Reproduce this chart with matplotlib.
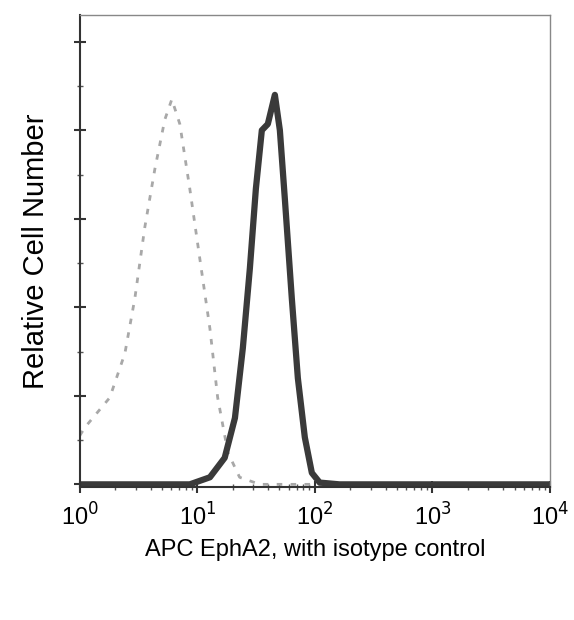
import matplotlib
matplotlib.use("Agg")
import matplotlib.pyplot as plt
from matplotlib.ticker import LogLocator, NullFormatter, MultipleLocator

plt.rcParams['font.family'] = ['Liberation Sans', 'DejaVu Sans']

iso_x = [1.0, 1.10, 1.80, 2.42, 2.94, 3.57, 4.35, 5.29, 6.07, 7.10, 8.63, 10.5, 12.8, 14.9, 18.2, 22.9, 34, 10000]
iso_y = [0.55, 0.64, 0.98, 1.48, 2.1, 2.9, 3.56, 4.12, 4.35, 4.07, 3.34, 2.55, 1.76, 0.98, 0.36, 0.08, 0.0, 0.0]

eph_x = [1.0, 8.63, 12.8, 17.1, 20.9, 24.4, 28.0, 31.5, 35.4, 39.8, 45.7, 50.4, 55.6, 63.7, 71.7, 82.2, 94.3, 110, 162, 10000]
eph_y = [0.0, 0.0, 0.08, 0.3, 0.75, 1.54, 2.44, 3.34, 4.0, 4.07, 4.4, 4.0, 3.22, 2.1, 1.2, 0.53, 0.13, 0.02, 0.0, 0.0]

xtick_vals = [1, 10, 100, 1000, 10000]
xtick_labels = ["10$^0$", "10$^1$", "10$^2$", "10$^3$", "10$^4$"]

fig = plt.figure(figsize=(5.74, 6.2), dpi=100)
ax = fig.add_axes([0.139, 0.2145, 0.819, 0.761])
ax.plot(iso_x, iso_y, color="#a8a8a8", lw=2.0, ls=(0, (2, 3)))
ax.plot(eph_x, eph_y, color="#3a3a3a", lw=4.5)
ax.set_xscale("log")
ax.set_xlim(1, 10000)
ax.set_ylim(-0.03, 5.3)
ax.set_xticks(xtick_vals)
ax.set_xticklabels(xtick_labels, fontsize=17)
ax.xaxis.set_minor_locator(LogLocator(base=10, subs=range(2, 10)))
ax.xaxis.set_minor_formatter(NullFormatter())
ax.yaxis.set_major_locator(MultipleLocator(1))
ax.yaxis.set_minor_locator(MultipleLocator(0.5))
ax.set_yticklabels([])
ax.tick_params(axis="both", which="major", direction="inout", length=8, width=1.5, color="#333333")
ax.tick_params(axis="both", which="minor", direction="inout", length=4, width=1, color="#555555")
ax.tick_params(axis="x", pad=8)
for s in ax.spines.values():
    s.set_color("#888888")
    s.set_linewidth(1)
ax.spines["left"].set_color("#333333")
ax.spines["left"].set_linewidth(1.5)
ax.spines["bottom"].set_color("#333333")
ax.spines["bottom"].set_linewidth(1.5)
ax.set_xlabel("APC EphA2, with isotype control", fontsize=17, labelpad=6)
ax.set_ylabel("Relative Cell Number", fontsize=21, labelpad=14)
fig.savefig("out.png", dpi=100)
